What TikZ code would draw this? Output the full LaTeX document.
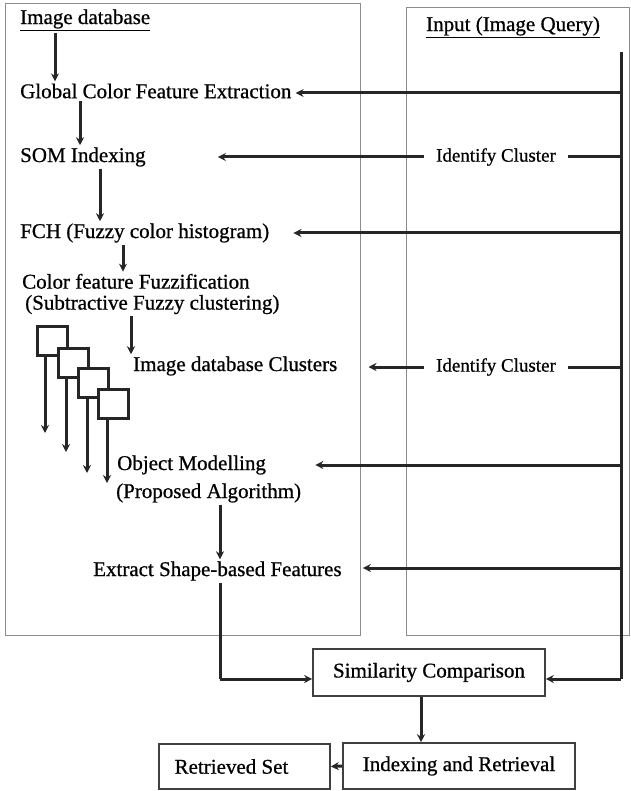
\documentclass[tikz,border=0pt]{standalone}
\usepackage{fontspec}
\setmainfont{Liberation Serif}[FakeBold=0.7]
\usetikzlibrary{arrows.meta,calc}
\begin{document}
\begin{tikzpicture}[x=1pt,y=-1pt,
  txt/.style={anchor=west,inner sep=2pt,font=\fontsize{21}{21}\selectfont,text=black,align=left},
  small/.style={inner ysep=2pt,inner xsep=12pt,font=\fontsize{19}{19}\selectfont,text=black},
  panel/.style={draw=black!45,line width=1pt},
  box/.style={draw=black!75,line width=1.6pt,minimum width=232pt,minimum height=47pt,inner sep=0pt,font=\fontsize{21}{21}\selectfont,text=black},
  sq/.style={draw=black!85,line width=3pt,fill=white,minimum width=30pt,minimum height=29pt,inner sep=0pt},
  arr/.style={draw=black!85,line width=3pt,-{Stealth[length=8pt,width=8pt]}},
  ln/.style={draw=black!85,line width=3pt},
]
\useasboundingbox (0,0) rectangle (630,791);
\fill[white] (0,0) rectangle (630,791);

% panels
\draw[panel] (5,4) rectangle (360,635);
\draw[panel] (406,8) rectangle (629.5,635);

% left column texts
\node[txt] (title1) at (18,20) {\underline{Image database}};
\node[txt] (gcfe) at (18,91) {Global Color Feature Extraction};
\node[txt] (som) at (18,157) {SOM Indexing};
\node[txt] (fch) at (18,233) {FCH (Fuzzy color histogram)};
\node[txt] (cff) at (20,294) {Color feature Fuzzification\\[0pt]\hspace*{3pt}(Subtractive Fuzzy clustering)};
\node[txt] (idc) at (131,366) {Image database Clusters};
\node[txt] (om) at (114,479) {\hspace*{1pt}Object Modelling\\[7pt](Proposed Algorithm)};
\node[txt] (esf) at (91,571) {Extract Shape-based Features};

% right column texts
\node[txt] (title2) at (424,27) {\underline{Input (Image Query)}};
\node[small] (ic1) at (496,157) {Identify Cluster};
\node[small] (ic2) at (496,367) {Identify Cluster};

% bottom boxes
\node[box] (sim) at (429,672.5) {Similarity Comparison};
\node[box,minimum height=46pt] (idx) at (459,766) {Indexing and Retrieval};
\node[box,minimum width=171pt,minimum height=45pt] (ret) at (244.5,766.5) {Retrieved Set\hspace*{26pt}};

% cluster squares
\node[sq] (s1) at (52,340.5) {};
\node[sq] (s2) at (73,362.5) {};
\node[sq] (s3) at (93.5,383) {};
\node[sq] (s4) at (113,403.5) {};

% coordinates
\coordinate (qtop) at (621,52);
\coordinate (q1) at (621,93);
\coordinate (q2) at (621,157);
\coordinate (q3) at (621,233);
\coordinate (q4) at (621,367);
\coordinate (q5) at (621,465);
\coordinate (q6) at (621,568);
\coordinate (qbot) at (621,679);
\coordinate (jl) at (220,679);
\coordinate (e1) at (45,433);
\coordinate (e2) at (66,452);
\coordinate (e3) at (87,473);
\coordinate (e4) at (107,483);

% left column flow
\draw[arr] ([xshift=37pt]title1.south west) -- ([xshift=37pt]title1.south west |- gcfe.north);
\draw[arr] ([xshift=62pt]gcfe.south west) -- ([xshift=62pt]gcfe.south west |- som.north);
\draw[arr] ([xshift=82pt]som.south west) -- ([xshift=82pt]som.south west |- fch.north);
\draw[arr] ([xshift=105pt]fch.south west) -- ([xshift=105pt]fch.south west |- cff.north);
\draw[arr] (cff.south -| idc.north west) -- (idc.north west);
\draw[arr] (s1.south -| e1) -- (e1);
\draw[arr] (s2.south -| e2) -- (e2);
\draw[arr] (s3.south -| e3) -- (e3);
\draw[arr] (s4.south -| e4) -- (e4);
\draw[arr] (om.south -| jl) -- (esf.north -| jl);
\draw[ln] (esf.south -| jl) -- (jl);
\draw[arr] (jl) -- (sim.west |- jl);

% query side
\draw[ln] (qtop) -- (qbot);
\draw[arr] (q1) -- ($(gcfe.east |- q1)+(2,0)$);
\draw[ln] (q2) -- (ic1.east);
\draw[arr] (ic1.west) -- ($(som.east |- q2)+(70,0)$);
\draw[arr] (q3) -- ($(fch.east |- q3)+(22,0)$);
\draw[ln] (q4) -- (ic2.east);
\draw[arr] (ic2.west) -- ($(idc.east |- q4)+(29,0)$);
\draw[arr] (q5) -- ($(om.east |- q5)+(12,0)$);
\draw[arr] (q6) -- ($(esf.east |- q6)+(19,0)$);
\draw[arr] (qbot) -- (sim.east |- qbot);

% bottom flow
\draw[arr] ([xshift=-8pt]sim.south) -- ([xshift=-8pt]sim.south |- idx.north);
\draw[arr] (idx.west) -- (ret.east);
\end{tikzpicture}
\end{document}
